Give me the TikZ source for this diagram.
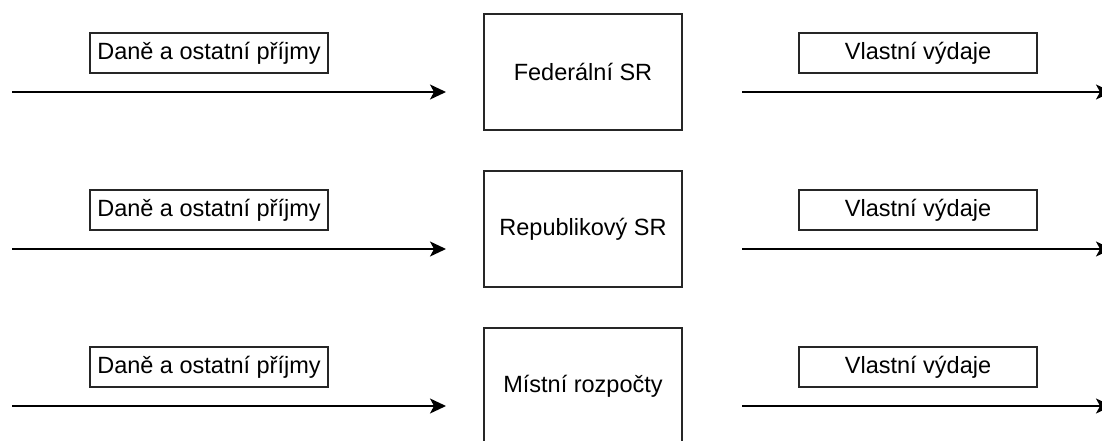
\documentclass[tikz,border=0pt]{standalone}
\usepackage{fontspec}
\setmainfont{Liberation Sans}
\usetikzlibrary{arrows.meta}
\begin{document}
\begin{tikzpicture}[x=1pt,y=-1pt,
  lw/.style={line width=1.6pt},
  budget/.style={lw, draw=black!85, minimum width=198pt, minimum height=116pt, inner sep=0pt,
    font=\fontsize{23.5}{27}\selectfont},
  tag/.style={lw, draw=black!85, minimum width=238pt, minimum height=40pt, inner sep=0pt,
    font=\fontsize{23.5}{27}\selectfont},
  flow/.style={lw, -{Stealth[length=16pt,width=15pt,inset=4pt]}}]
  \useasboundingbox (0,0) rectangle (1102,441);
  \clip (0,0) rectangle (1102,441);
  % three rows: revenue in, budget level, own expenditure out
  \foreach \i/\name/\lab in {0/fed/Federální SR, 1/rep/Republikový SR, 2/loc/Místní rozpočty}{
    \pgfmathsetmacro{\dy}{157*\i}
    \node[budget] (\name) at (583,72+\dy) {\lab};
    \node[tag] (\name-in) at (209,53+\dy) {\raisebox{3pt}{Daně a ostatní příjmy}};
    \node[tag] (\name-out) at (918,53+\dy) {\raisebox{3pt}{Vlastní výdaje}};
    \coordinate (\name-a) at (12,92+\dy);
    \coordinate (\name-b) at (446,92+\dy);
    \coordinate (\name-c) at (742,92+\dy);
    \coordinate (\name-d) at (1112,92+\dy);
    \draw[flow] (\name-a) -- (\name-b);
    \draw[flow] (\name-c) -- (\name-d);
  }
\end{tikzpicture}
\end{document}
